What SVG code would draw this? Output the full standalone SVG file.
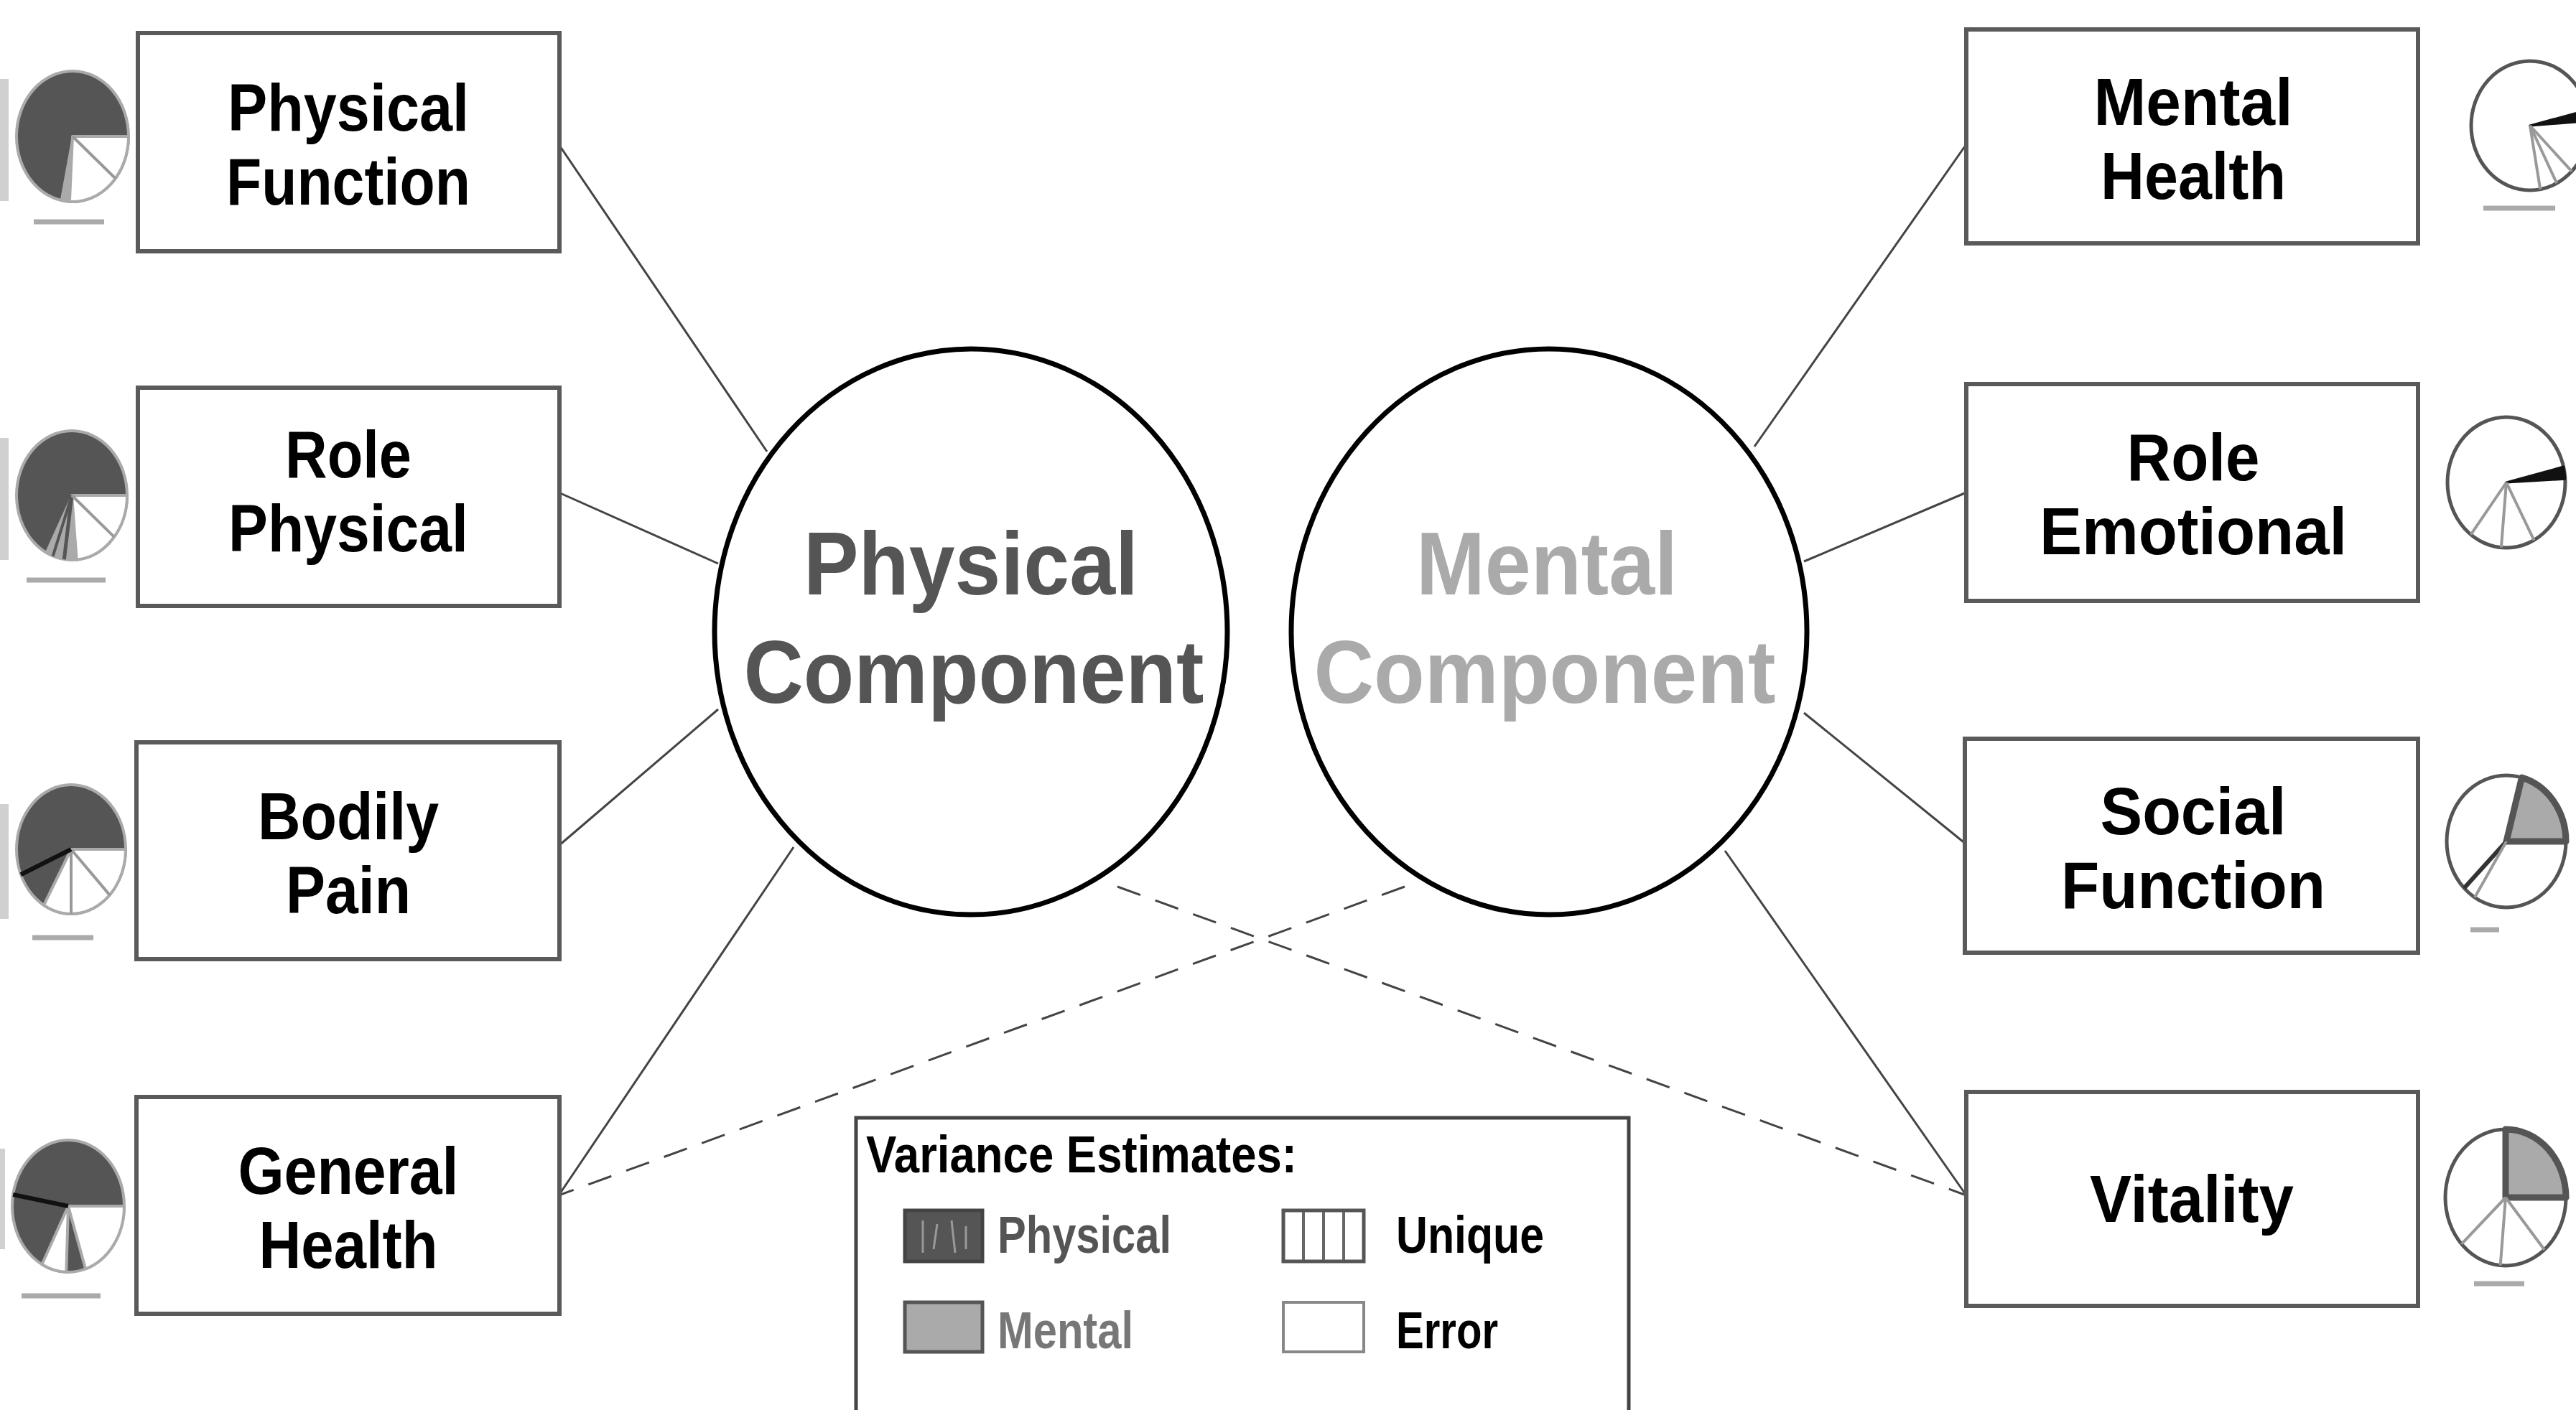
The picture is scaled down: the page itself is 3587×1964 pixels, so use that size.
<svg xmlns="http://www.w3.org/2000/svg" width="3587" height="1964" viewBox="0 0 3587 1964">
<style>
  .box { fill: #ffffff; stroke: #5a5a5a; stroke-width: 6; }
  .lbl { font-family: "Liberation Sans", Arial, sans-serif; font-weight: bold; font-size: 92px; fill: #000; text-anchor: middle; }
  .comp { font-family: "Liberation Sans", Arial, sans-serif; font-weight: bold; font-size: 124px; text-anchor: middle; }
  .oval { fill: #ffffff; stroke: #000; stroke-width: 7; }
  .conn { stroke: #444; stroke-width: 3; fill: none; }
  .dash { stroke: #444; stroke-width: 3; fill: none; stroke-dasharray: 34 22; }
  .pieL { fill: #555; stroke: #aaa; stroke-width: 4; }
  .pieR { fill: #fff; stroke: #555; stroke-width: 5; }
  .wht { fill: #fff; stroke: #aaa; stroke-width: 4; stroke-linejoin: round; }
  .lg { fill: #aaa; stroke: #aaa; stroke-width: 2; }
  .div { stroke: #999; stroke-width: 4; }
  .blk { stroke: #111; stroke-width: 6; }
  .mw { fill: #aaa; stroke: #555; stroke-width: 9; stroke-linejoin: round; }
  .dk { fill: #111; stroke: #111; stroke-width: 3; stroke-linejoin: round; }
  .tiny { stroke: #aaa; stroke-width: 7; }
  .leg { font-family: "Liberation Sans", Arial, sans-serif; font-weight: bold; font-size: 72px; }
</style>

<rect x="0" y="0" width="3587" height="1964" fill="#ffffff"/>

<!-- scan remnants at left edge -->
<g fill="#d0d0d0">
  <rect x="0" y="110" width="12" height="170"/>
  <rect x="0" y="610" width="12" height="170"/>
  <rect x="0" y="1120" width="12" height="160"/>
  <rect x="0" y="1600" width="7" height="140"/>
</g>

<g id="connectors">
  <line class="conn" x1="778" y1="201" x2="1068" y2="629"/>
  <line class="conn" x1="778" y1="686" x2="1000" y2="785"/>
  <line class="conn" x1="778" y1="1178" x2="1000" y2="988"/>
  <line class="conn" x1="778" y1="1665" x2="1105" y2="1180"/>
  <line class="conn" x1="2738" y1="201" x2="2443" y2="622"/>
  <line class="conn" x1="2738" y1="686" x2="2512" y2="782"/>
  <line class="conn" x1="2738" y1="1176" x2="2512" y2="993"/>
  <line class="conn" x1="2738" y1="1665" x2="2402" y2="1185"/>
  <line class="dash" x1="1556" y1="1235" x2="2738" y2="1665"/>
  <line class="dash" x1="1956" y1="1235" x2="778" y2="1665"/>
</g>

<g id="physical-component">
  <ellipse class="oval" cx="1352" cy="880" rx="357" ry="394"/>
  <text class="comp" fill="#555"><tspan x="1352" y="828" textLength="466" lengthAdjust="spacingAndGlyphs">Physical</tspan><tspan x="1356" y="979" textLength="641" lengthAdjust="spacingAndGlyphs">Component</tspan></text>
</g>

<g id="mental-component">
  <ellipse class="oval" cx="2157" cy="880" rx="359" ry="394"/>
  <text class="comp" fill="#aaa"><tspan x="2154" y="828" textLength="364" lengthAdjust="spacingAndGlyphs">Mental</tspan><tspan x="2151" y="979" textLength="643" lengthAdjust="spacingAndGlyphs">Component</tspan></text>
</g>

<!-- Left nodes -->
<g id="physical-function">
  <rect class="box" x="192" y="46" width="587" height="304"/>
  <text class="lbl"><tspan x="485" y="182" textLength="336" lengthAdjust="spacingAndGlyphs">Physical</tspan><tspan x="485" y="285" textLength="340" lengthAdjust="spacingAndGlyphs">Function</tspan></text>
  <g id="pie-physical-function">
    <ellipse class="pieL" cx="101" cy="190" rx="78" ry="91"/>
    <path class="wht" d="M101,190 L179,190 A78,91 0 0 1 96.9,280.9 Z"/>
    <path class="lg" d="M101,190 L96.9,280.9 A78,91 0 0 1 84.8,279 Z"/>
    <line class="div" x1="101" y1="190" x2="160.7" y2="248.5"/>
    <line class="tiny" x1="47" y1="309" x2="145" y2="309"/>
  </g>
</g>

<g id="role-physical">
  <rect class="box" x="192" y="540" width="587" height="304"/>
  <text class="lbl"><tspan x="485" y="665" textLength="176" lengthAdjust="spacingAndGlyphs">Role</tspan><tspan x="485" y="768" textLength="334" lengthAdjust="spacingAndGlyphs">Physical</tspan></text>
  <g id="pie-role-physical">
    <ellipse class="pieL" cx="100" cy="690" rx="77" ry="90"/>
    <path class="wht" d="M100,690 L177,690 A77,90 0 0 1 106.7,779.7 Z"/>
    <path class="lg" d="M100,690 L106.7,779.7 A77,90 0 0 1 63.8,769.5 Z"/>
    <line x1="100" y1="690" x2="89.3" y2="779.1" stroke="#555" stroke-width="5"/>
    <line x1="100" y1="690" x2="73.7" y2="774.6" stroke="#555" stroke-width="4"/>
    <line class="div" x1="100" y1="690" x2="159" y2="747.9"/>
    <line class="tiny" x1="37" y1="808" x2="147" y2="808"/>
  </g>
</g>

<g id="bodily-pain">
  <rect class="box" x="190" y="1034" width="589" height="302"/>
  <text class="lbl"><tspan x="485" y="1169" textLength="252" lengthAdjust="spacingAndGlyphs">Bodily</tspan><tspan x="485" y="1272" textLength="174" lengthAdjust="spacingAndGlyphs">Pain</tspan></text>
  <g id="pie-bodily-pain">
    <ellipse class="pieL" cx="99" cy="1183" rx="76" ry="90"/>
    <path class="wht" d="M99,1183 L175,1183 A76,90 0 0 1 61,1260.9 Z"/>
    <line class="div" x1="99" y1="1183" x2="152.7" y2="1246.6"/>
    <line class="div" x1="99" y1="1183" x2="99" y2="1273"/>
    <line class="blk" x1="99" y1="1183" x2="29" y2="1218.2"/>
    <line class="tiny" x1="45" y1="1306" x2="130" y2="1306"/>
  </g>
</g>

<g id="general-health">
  <rect class="box" x="190" y="1528" width="589" height="302"/>
  <text class="lbl"><tspan x="485" y="1663" textLength="307" lengthAdjust="spacingAndGlyphs">General</tspan><tspan x="485" y="1766" textLength="249" lengthAdjust="spacingAndGlyphs">Health</tspan></text>
  <g id="pie-general-health">
    <ellipse class="pieL" cx="95" cy="1680" rx="78" ry="92"/>
    <path class="wht" d="M95,1680 L173,1680 A78,92 0 0 1 119.1,1767.5 Z"/>
    <path class="wht" d="M95,1680 L92.3,1771.9 A78,92 0 0 1 58.4,1761.2 Z"/>
    <line class="blk" x1="95" y1="1680" x2="18.2" y2="1664"/>
    <line class="tiny" x1="30" y1="1805" x2="140" y2="1805"/>
  </g>
</g>

<!-- Right nodes -->
<g id="mental-health">
  <rect class="box" x="2738" y="41" width="629" height="298"/>
  <text class="lbl"><tspan x="3054" y="174" textLength="277" lengthAdjust="spacingAndGlyphs">Mental</tspan><tspan x="3054" y="277" textLength="258" lengthAdjust="spacingAndGlyphs">Health</tspan></text>
  <g id="pie-mental-health">
    <ellipse class="pieR" cx="3523" cy="175" rx="82" ry="90"/>
    <path class="dk" d="M3523,175 L3602.6,153.2 A82,90 0 0 1 3604.8,168.7 Z"/>
    <line class="div" x1="3523" y1="175" x2="3537.2" y2="263.6"/>
    <line class="div" x1="3523" y1="175" x2="3560.2" y2="255.2"/>
    <line class="div" x1="3523" y1="175" x2="3581" y2="238.6"/>
    <line class="tiny" x1="3458" y1="290" x2="3558" y2="290"/>
  </g>
</g>

<g id="role-emotional">
  <rect class="box" x="2738" y="535" width="629" height="302"/>
  <text class="lbl"><tspan x="3054" y="669" textLength="185" lengthAdjust="spacingAndGlyphs">Role</tspan><tspan x="3054" y="772" textLength="428" lengthAdjust="spacingAndGlyphs">Emotional</tspan></text>
  <g id="pie-role-emotional">
    <ellipse class="pieR" cx="3490" cy="672" rx="82" ry="91"/>
    <path class="dk" d="M3490,672 L3569.6,650 A82,91 0 0 1 3571.9,667.2 Z"/>
    <line class="div" x1="3490" y1="672" x2="3440.6" y2="744.7"/>
    <line class="div" x1="3490" y1="672" x2="3482.9" y2="762.7"/>
    <line class="div" x1="3490" y1="672" x2="3528.5" y2="752.3"/>
  </g>
</g>

<g id="social-function">
  <rect class="box" x="2736" y="1029" width="631" height="298"/>
  <text class="lbl"><tspan x="3054" y="1162" textLength="259" lengthAdjust="spacingAndGlyphs">Social</tspan><tspan x="3054" y="1265" textLength="368" lengthAdjust="spacingAndGlyphs">Function</tspan></text>
  <g id="pie-social-function">
    <ellipse class="pieR" cx="3490" cy="1172" rx="83" ry="92"/>
    <path class="mw" d="M3490,1172 L3511.5,1083.1 A83,92 0 0 1 3573,1172 Z"/>
    <line x1="3490" y1="1172" x2="3431.3" y2="1237.1" stroke="#333" stroke-width="6"/>
    <line class="div" x1="3490" y1="1172" x2="3446" y2="1250"/>
    <line class="tiny" x1="3440" y1="1295" x2="3480" y2="1295"/>
  </g>
</g>

<g id="vitality">
  <rect class="box" x="2738" y="1521" width="629" height="298"/>
  <text class="lbl" x="3052" y="1702" font-size="98" textLength="284" lengthAdjust="spacingAndGlyphs">Vitality</text>
  <g id="pie-vitality">
    <ellipse class="pieR" cx="3489" cy="1668" rx="84" ry="95"/>
    <path class="mw" d="M3489,1668 L3489,1573 A84,95 0 0 1 3573,1668 Z"/>
    <line class="div" x1="3489" y1="1668" x2="3427.6" y2="1732.8"/>
    <line class="div" x1="3489" y1="1668" x2="3481.7" y2="1762.6"/>
    <line class="div" x1="3489" y1="1668" x2="3543" y2="1740.8"/>
    <line class="tiny" x1="3445" y1="1788" x2="3515" y2="1788"/>
  </g>
</g>

<!-- Legend -->
<g id="legend">
  <rect x="1192" y="1557" width="1076" height="440" fill="#fff" stroke="#444" stroke-width="5"/>
  <text class="leg" x="1206" y="1633" fill="#000" textLength="600" lengthAdjust="spacingAndGlyphs">Variance Estimates:</text>
  <rect x="1260" y="1686" width="108" height="71" fill="#555" stroke="#444" stroke-width="5"/>
  <g stroke="#999" stroke-width="3">
    <line x1="1285" y1="1700" x2="1285" y2="1745"/>
    <line x1="1305" y1="1705" x2="1300" y2="1740"/>
    <line x1="1325" y1="1700" x2="1330" y2="1745"/>
    <line x1="1345" y1="1708" x2="1345" y2="1740"/>
  </g>
  <text class="leg" x="1389" y="1745" fill="#555" textLength="242" lengthAdjust="spacingAndGlyphs">Physical</text>
  <rect x="1787" y="1686" width="112" height="71" fill="#fff" stroke="#555" stroke-width="5"/>
  <g stroke="#666" stroke-width="4">
    <line x1="1815" y1="1688" x2="1815" y2="1755"/>
    <line x1="1843" y1="1688" x2="1843" y2="1755"/>
    <line x1="1871" y1="1688" x2="1871" y2="1755"/>
  </g>
  <text class="leg" x="1944" y="1745" fill="#000" textLength="206" lengthAdjust="spacingAndGlyphs">Unique</text>
  <rect x="1260" y="1814" width="108" height="69" fill="#aaa" stroke="#555" stroke-width="5"/>
  <text class="leg" x="1389" y="1878" fill="#777" textLength="189" lengthAdjust="spacingAndGlyphs">Mental</text>
  <rect x="1787" y="1814" width="112" height="69" fill="#fff" stroke="#888" stroke-width="4"/>
  <text class="leg" x="1944" y="1878" fill="#000" textLength="142" lengthAdjust="spacingAndGlyphs">Error</text>
</g>
</svg>
